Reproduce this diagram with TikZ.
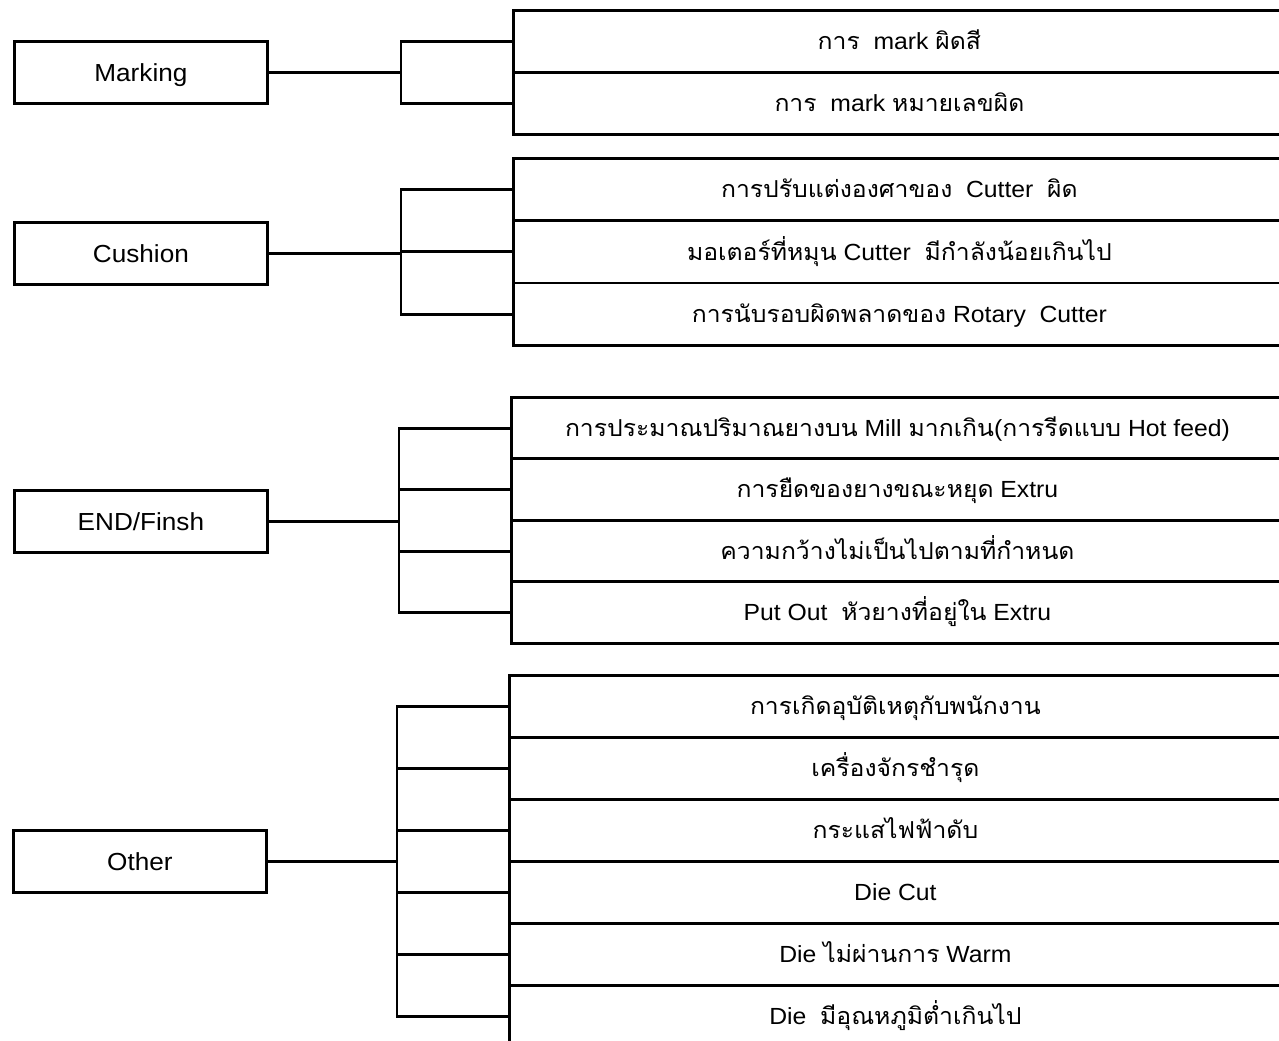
\documentclass[tikz,border=0pt]{standalone}
\usepackage{fontspec}
\setmainfont{Liberation Sans}[FakeStretch=1.06]
\newfontfamily\thaifont[Script=Thai,FakeStretch=1.06]{Loma}
\newcommand\tha[1]{{\thaifont #1}}
\begin{document}
\begin{tikzpicture}[x=0.75pt,y=-0.75pt,
  line width=2.1pt,
  every node/.style={inner sep=0pt},
  causebox/.style={draw, font=\fontsize{18.5pt}{22pt}\selectfont, text height=13.2pt, text depth=0pt,
    minimum width=189.75pt, minimum height=46.5pt, anchor=north west},
  itembox/.style={draw, font=\fontsize{17.5pt}{21pt}\selectfont, text height=12.5pt, text depth=0pt,
    minimum width=579pt, minimum height=#1, anchor=north west},
  itembox/.default=46.5pt,
  link/.style={line cap=rect}]
\useasboundingbox (0,0) rectangle (1279,1041);
\clip (0,0) rectangle (1279,1041);

% ---------- cause boxes ----------
\node[causebox] (mk) at (13,40)  {Marking};
\node[causebox] (cu) at (13,221) {Cushion};
\node[causebox] (en) at (13,489) {END/Finsh};
\node[causebox] (ot) at (12,829) {Other};

% ---------- Marking ----------
\node[itembox] (mk1) at (512,9)  {\tha{การ}\ \ mark \tha{ผิดสี}};
\node[itembox] (mk2) at (512,71) {\tha{การ}\ \ mark \tha{หมายเลขผิด}};

% ---------- Cushion ----------
\node[itembox=46.75pt] (cu1) at (512,157) {\tha{การปรับแต่งองศาของ}\ \ Cutter\ \ \tha{ผิด}};
\node[itembox=46.75pt] (cu2) at (512,219.3) {\tha{มอเตอร์ที่หมุน} Cutter\ \ \tha{มีกำลังน้อยเกินไป}};
\node[itembox=46.75pt] (cu3) at (512,281.6) {\tha{การนับรอบผิดพลาดของ} Rotary\ \ Cutter};

% ---------- END/Finsh ----------
\node[itembox=46.1pt] (en1) at (510,396)   {\tha{การประมาณปริมาณยางบน} Mill \tha{มากเกิน}(\tha{การรีดแบบ} Hot feed)};
\node[itembox=46.1pt] (en2) at (510,457.5) {\tha{การยืดของยางขณะหยุด} Extru};
\node[itembox=46.1pt] (en3) at (510,519)   {\tha{ความกว้างไม่เป็นไปตามที่กำหนด}};
\node[itembox=46.1pt] (en4) at (510,580.5) {Put Out\ \ \tha{หัวยางที่อยู่ใน} Extru};

% ---------- Other ----------
\node[itembox] (ot1) at (508,674) {\tha{การเกิดอุบัติเหตุกับพนักงาน}};
\node[itembox] (ot2) at (508,736) {\tha{เครื่องจักรชำรุด}};
\node[itembox] (ot3) at (508,798) {\tha{กระแสไฟฟ้าดับ}};
\node[itembox] (ot4) at (508,860) {Die Cut};
\node[itembox] (ot5) at (508,922) {Die \tha{ไม่ผ่านการ} Warm};
\node[itembox] (ot6) at (508,984) {Die\ \ \tha{มีอุณหภูมิต่ำเกินไป}};

% ---------- bracket junctions ----------
\coordinate (mkj) at (401,71);
\coordinate (cuj) at (401,252);
\coordinate (enj) at (399,520);
\coordinate (otj) at (397,860);

% ---------- connectors ----------
\draw[link] (mk.east) -- (mk.east -| mkj);
\draw[link] (mk1.west -| mkj) -- (mk2.west -| mkj);
\foreach \r in {mk1,mk2} \draw[link] (\r.west -| mkj) -- (\r.west);

\draw[link] (cu.east) -- (cu.east -| cuj);
\draw[link] (cu1.west -| cuj) -- (cu3.west -| cuj);
\foreach \r in {cu1,cu2,cu3} \draw[link] (\r.west -| cuj) -- (\r.west);

\draw[link] (en.east) -- (en.east -| enj);
\draw[link] (en1.west -| enj) -- (en4.west -| enj);
\foreach \r in {en1,en2,en3,en4} \draw[link] (\r.west -| enj) -- (\r.west);

\draw[link] (ot.east) -- (ot.east -| otj);
\draw[link] (ot1.west -| otj) -- (ot6.west -| otj);
\foreach \r in {ot1,ot2,ot3,ot4,ot5,ot6} \draw[link] (\r.west -| otj) -- (\r.west);
\end{tikzpicture}
\end{document}
